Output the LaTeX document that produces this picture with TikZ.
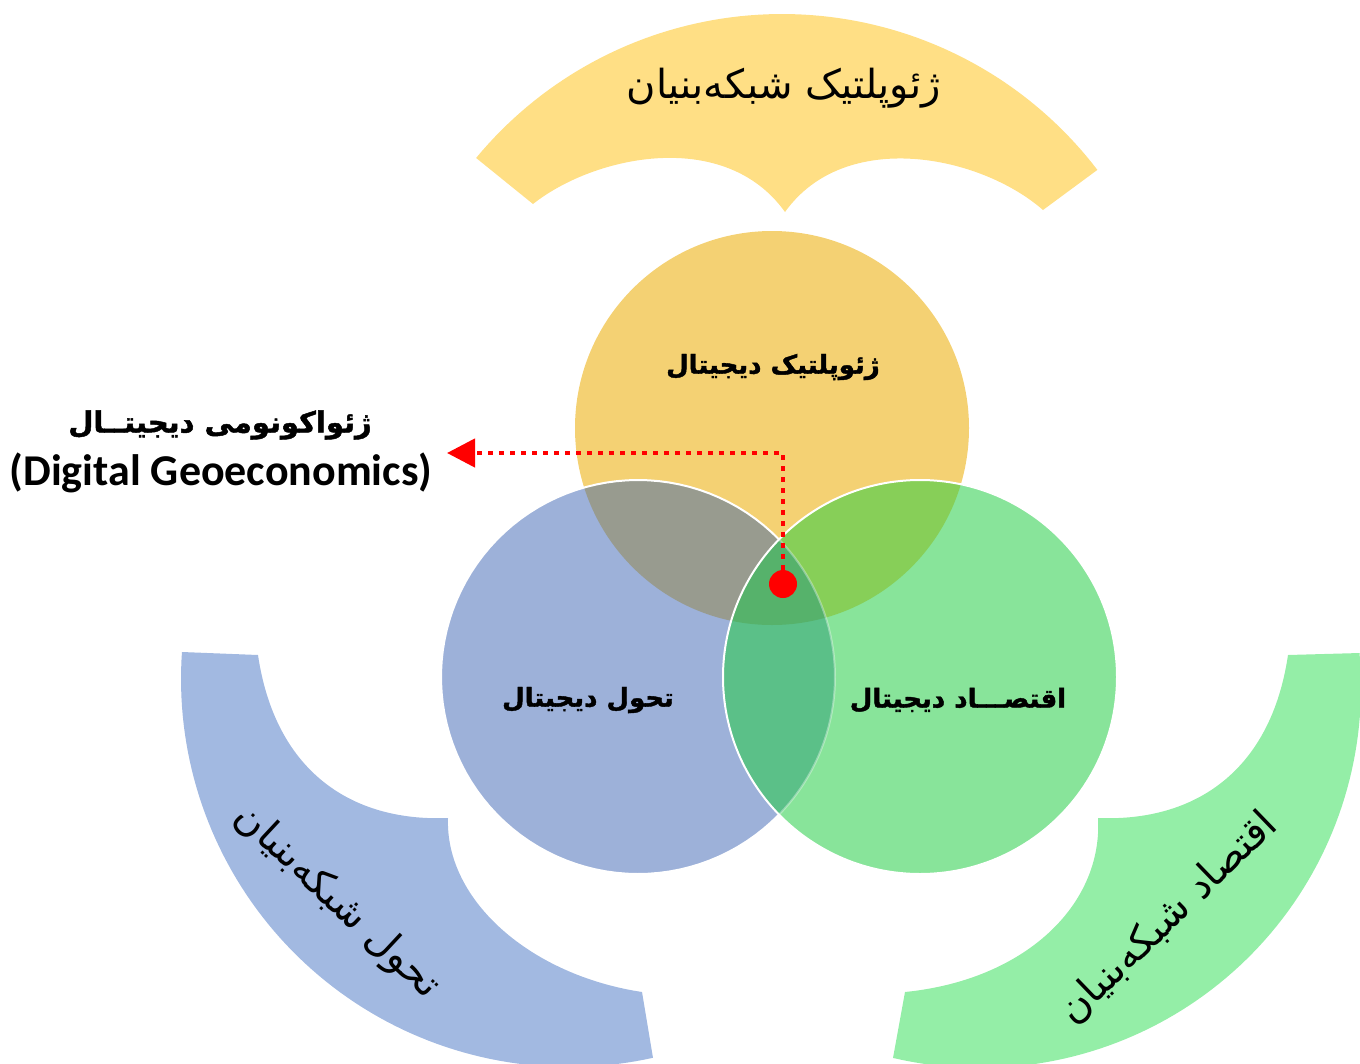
\documentclass[tikz,border=0pt]{standalone}
\usepackage{fontspec}
\usetikzlibrary{arrows.meta}
\newfontfamily\arabicfont[Script=Arabic]{DejaVu Sans}
\newfontfamily\arabicheavy[Script=Arabic,FakeBold=1.6]{DejaVu Sans Bold}
\newfontfamily\latinfont{Carlito}
\TeXXeTstate=1
\definecolor{ybandc}{HTML}{FFDF85}
\definecolor{bbandc}{HTML}{A2B9E1}
\definecolor{gbandc}{HTML}{94EEA7}
\definecolor{ycircc}{HTML}{F4D173}
\definecolor{bcircc}{HTML}{9DB1D9}
\definecolor{gcircc}{HTML}{88E49A}
\definecolor{ybc}{HTML}{989B8F}
\definecolor{ygc}{HTML}{87CF58}
\definecolor{bgc}{HTML}{5BC088}
\definecolor{ybgc}{HTML}{56B26B}
\begin{document}
\begin{tikzpicture}[x=1pt,y=-1pt,
  clabel/.style={font=\arabicheavy\fontsize{26}{31}\selectfont, inner sep=0pt},
  blabel/.style={font=\arabicfont\fontsize{40}{46}\selectfont, inner sep=0pt},
  arrowline/.style={red, line width=4.5pt, dash pattern=on 4.5pt off 6.5pt},
  outline/.style={white, line width=2pt}]
\useasboundingbox (0,0) rectangle (1360,1063);
% ---------- bands ----------
\fill[ybandc] plot[domain=-140.4:-37.4, samples=80] ({782+397*cos(\x)},{411+397*sin(\x)})
  -- (1043,210)
  .. controls (980,155) and (845,128) .. (785,212)
  .. controls (725,128) and (595,155) .. (533,204)
  -- cycle;
\fill[bbandc] (182,652) -- (258,655)
  .. controls (275,770) and (350,822) .. (448,818)
  .. controls (445,900) and (530,975) .. (642,992)
  -- (653,1058)
  -- plot[domain=77.5:184, samples=80] ({569+388*cos(\x)},{679+388*sin(\x)})
  -- cycle;
\fill[gbandc] (1360,653) -- (1288,655)
  .. controls (1271,770) and (1196,822) .. (1098,818)
  .. controls (1103,905) and (1025,980) .. (905,992)
  -- (893,1058)
  -- plot[domain=103.2:-5.1, samples=80] ({980+381*cos(\x)},{687+381*sin(\x)})
  -- cycle;
% ---------- circles ----------
\fill[ycircc] (772,428) circle (197);
\fill[bcircc] (638,677) circle (197);
\fill[gcircc] (920,677) circle (197);
\begin{scope}\clip (772,428) circle (197); \fill[ybc] (638,677) circle (197); \end{scope}
\begin{scope}\clip (772,428) circle (197); \fill[ygc] (920,677) circle (197); \end{scope}
\begin{scope}\clip (638,677) circle (197); \fill[bgc] (920,677) circle (197); \end{scope}
\begin{scope}\clip (772,428) circle (197); \clip (638,677) circle (197); \fill[ybgc] (920,677) circle (197); \end{scope}
\draw[outline] plot[domain=44.3:315.7, samples=90] ({638+197*cos(\x)},{677+197*sin(\x)});
\draw[outline, opacity=0.35] plot[domain=-44.3:44.3, samples=40] ({638+197*cos(\x)},{677+197*sin(\x)});
\draw[outline] (920,677) circle (197);
% ---------- labels ----------
\node[blabel] (ytext) at (784,88) {\beginR ژئوپلتیک شبکه^^^^200cبنیان\endR};
\node[blabel, rotate=-43] (btext) at (337,902) {\beginR تحول شبکه^^^^200cبنیان\endR};
\node[blabel, rotate=44] (gtext) at (1168,918) {\beginR اقتصاد شبکه^^^^200cبنیان\endR};
\node[clabel] (ylabel) at (773,367) {\beginR ژئوپلتیک دیجیتال\endR};
\node[clabel] (blabel) at (588,700) {\beginR تحول دیجیتال\endR};
\node[clabel] (glabel) at (958,700) {\beginR اقتصـــاد دیجیتال\endR};
\node[font=\arabicheavy\fontsize{29}{34}\selectfont, inner sep=0pt] (geofa) at (220,425) {\beginR ژئواکونومی دیجیتــال\endR};
\node[font=\latinfont\bfseries\fontsize{44}{50}\selectfont, inner sep=0pt] (geoen) at (221,473) {(Digital Geoeconomics)};
% ---------- pointer ----------
\node[circle, fill=red, minimum size=28pt, inner sep=0pt] (dot) at (783,584) {};
\coordinate (tip) at (447,453);
\draw[arrowline, -{Triangle[length=28pt,width=28pt]}] (dot.north) |- (tip);
\end{tikzpicture}
\end{document}
